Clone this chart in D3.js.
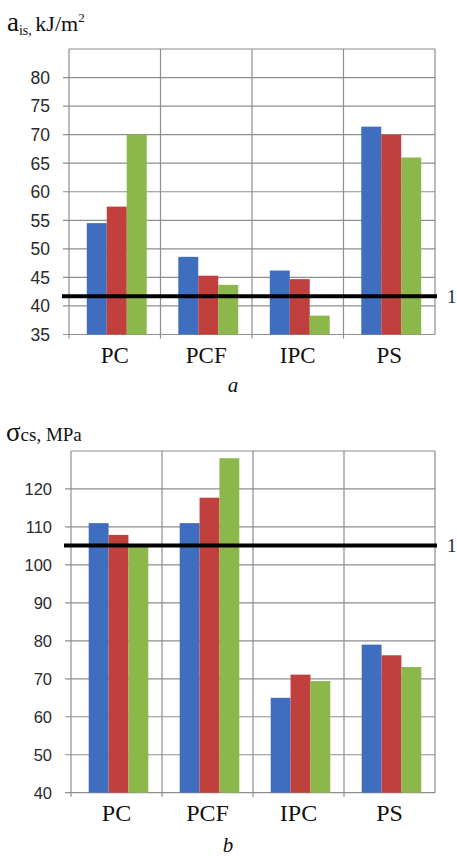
<!DOCTYPE html>
<html lang="en">
<head>
<meta charset="utf-8">
<title>Impact and compressive strength</title>
<script src="https://d3js.org/d3.v7.min.js"></script>
<style>
  html, body { margin: 0; padding: 0; background: #fff; }
  svg { display: block; }
  .tick-label { font-family: "Liberation Sans", Arial, sans-serif; fill: #2a2a2a; }
  .cat-label { font-family: "Liberation Serif", "Times New Roman", serif; fill: #111; }
  .title { font-family: "Liberation Serif", "Times New Roman", serif; fill: #111; }
</style>
</head>
<body>
<svg id="chart" width="457" height="856"></svg>
<script>
// categories shared by both panels
const categories = ["PC", "PCF", "IPC", "PS"];
const seriesColors = ["#3f6dbf", "#c0403d", "#8cb84b"];

// panel a: impact strength a_is, kJ/m2
const aisBlue = [54.5, 48.6, 46.2, 71.4];
const aisRed = [57.4, 45.3, 44.7, 70.0];
const aisGreen = [70.0, 43.7, 38.3, 66.0];
const aisTicks = [35, 40, 45, 50, 55, 60, 65, 70, 75, 80];
const aisLevel1 = 41.7;

// panel b: compressive strength sigma_cs, MPa
const csBlue = [111.0, 111.0, 65.0, 79.0];
const csRed = [107.9, 117.7, 71.1, 76.2];
const csGreen = [105.3, 128.1, 69.4, 73.1];
const csTicks = [40, 50, 60, 70, 80, 90, 100, 110, 120];
const csLevel1 = 105.1;

const svg = d3.select("#chart");

function drawPanel(cfg) {
  const g = svg.append("g");
  const x = d3.scaleBand().domain(categories).range([cfg.left, cfg.right]);
  const y = d3.scaleLinear().domain(cfg.domain).range([cfg.bottom, cfg.top]);
  const groupW = x.bandwidth() * 0.655;
  const inner = d3.scaleBand().domain(d3.range(cfg.series.length))
    .range([(x.bandwidth() - groupW) / 2 + 2, (x.bandwidth() + groupW) / 2 + 2]);

  // horizontal gridlines with outside ticks
  g.selectAll("line.hgrid").data(cfg.ticks).join("line")
    .attr("class", "hgrid")
    .attr("x1", cfg.left - 6).attr("x2", cfg.right)
    .attr("y1", d => y(d)).attr("y2", d => y(d))
    .attr("stroke", "#8e8e8e").attr("stroke-width", 1.2);
  // top border
  g.append("line")
    .attr("x1", cfg.left).attr("x2", cfg.right)
    .attr("y1", y(cfg.domain[1])).attr("y2", y(cfg.domain[1]))
    .attr("stroke", "#8e8e8e").attr("stroke-width", 1.2);

  // vertical category dividers
  const edges = categories.map(c => x(c)).concat([cfg.right]);
  g.selectAll("line.vgrid").data(edges).join("line")
    .attr("class", "vgrid")
    .attr("x1", d => d).attr("x2", d => d)
    .attr("y1", y(cfg.domain[1]))
    .attr("y2", (d, i) => i === edges.length - 1 ? cfg.bottom : cfg.bottom + 4)
    .attr("stroke", "#8e8e8e").attr("stroke-width", 1.2);

  // y tick labels
  g.selectAll("text.ylab").data(cfg.ticks).join("text")
    .attr("class", "tick-label ylab")
    .attr("x", cfg.left - 19)
    .attr("y", d => y(d))
    .attr("dy", "0.36em")
    .attr("text-anchor", "end")
    .style("font-size", cfg.tickSize + "px")
    .text(d => d);

  // bars
  cfg.series.forEach((vals, si) => {
    g.selectAll("rect.s" + si).data(vals).join("rect")
      .attr("class", "s" + si)
      .attr("x", (d, i) => x(categories[i]) + inner(si))
      .attr("width", inner.bandwidth())
      .attr("y", d => y(d))
      .attr("height", d => cfg.bottom - y(d))
      .attr("fill", seriesColors[si]);
  });

  // category labels
  g.selectAll("text.xlab").data(categories).join("text")
    .attr("class", "cat-label xlab")
    .attr("x", d => x(d) + x.bandwidth() / 2)
    .attr("y", cfg.catBaseline)
    .attr("text-anchor", "middle")
    .style("font-size", cfg.catSize + "px")
    .text(d => d);

  // reference line 1
  g.append("line")
    .attr("x1", cfg.left - 7).attr("x2", cfg.right + 2)
    .attr("y1", y(cfg.level)).attr("y2", y(cfg.level))
    .attr("stroke", "#000").attr("stroke-width", 4);
  g.append("text")
    .attr("class", "title")
    .attr("x", cfg.right + 12)
    .attr("y", y(cfg.level))
    .attr("dy", "0.35em")
    .style("font-size", "19px")
    .style("fill", "#1d2a48")
    .text("1");

  // panel caption
  g.append("text")
    .attr("class", "title")
    .attr("x", cfg.captionX)
    .attr("y", cfg.captionY)
    .attr("text-anchor", "middle")
    .style("font-size", "21px")
    .style("font-style", "italic")
    .text(cfg.caption);

  return g;
}

const gA = drawPanel({
  left: 69, right: 435, top: 49, bottom: 334.5,
  domain: [35, 85], ticks: aisTicks,
  series: [aisBlue, aisRed, aisGreen],
  level: aisLevel1,
  tickSize: 17.5, catSize: 23, catBaseline: 363,
  caption: "a", captionX: 233, captionY: 392
});

const gB = drawPanel({
  left: 71, right: 435, top: 451, bottom: 792.7,
  domain: [40, 130], ticks: csTicks,
  series: [csBlue, csRed, csGreen],
  level: csLevel1,
  tickSize: 16.5, catSize: 24, catBaseline: 821,
  caption: "b", captionX: 228, captionY: 852
});

// axis titles
const tA = gA.append("text").attr("class", "title").attr("x", 7).attr("y", 31);
tA.append("tspan").style("font-size", "27px").text("a");
tA.append("tspan").style("font-size", "14px").attr("dy", 4).text("is, ");
tA.append("tspan").style("font-size", "22px").attr("dy", -4).text("kJ/m");
tA.append("tspan").style("font-size", "13px").attr("dy", -9).text("2");

const tB = gB.append("text").attr("class", "title").attr("x", 6).attr("y", 441);
tB.append("tspan").style("font-size", "27px").text("σ");
tB.append("tspan").style("font-size", "19px").text("cs, MPa");
</script>
</body>
</html>
